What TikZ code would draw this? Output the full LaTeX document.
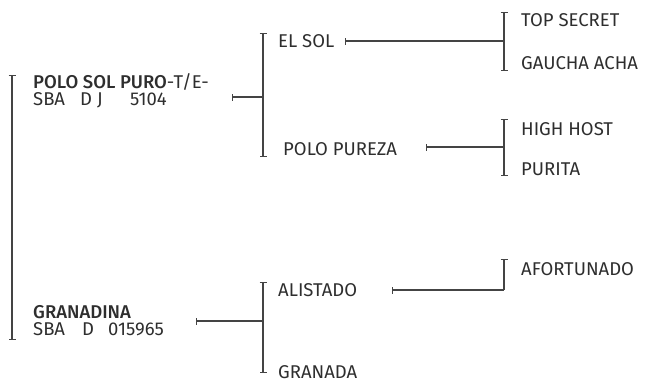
\documentclass[tikz,border=0pt]{standalone}
\usepackage{fontspec}
\setmainfont{Fira Sans}[BoldFont={Fira Sans Medium}]
\usetikzlibrary{arrows.meta}

\definecolor{txtgray}{HTML}{2E2E2E}
\definecolor{linegray}{HTML}{444444}

\begin{document}
\begin{tikzpicture}[x=1pt,y=-1pt,
  horse/.style={anchor=base west,inner sep=0pt,text=txtgray,
    font=\fontsize{18.5}{20}\selectfont},
  bracket/.style={draw=linegray,line width=1.1pt,{Bar[width=7pt]}-{Bar[width=7pt]}},
  halfbracket/.style={draw=linegray,line width=1.1pt,{Bar[width=7pt]}-},
  stub/.style={draw=linegray,line width=1.1pt,{Bar[width=7pt]}-}]
\useasboundingbox (0,0) rectangle (648,383);

\def\xa{12}
\def\xb{33}
\def\xc{263}
\def\xd{278}
\def\xe{504}
\def\xf{521}

% generation 1
\node[horse] (polo) at (\xb, 88) {\textbf{POLO SOL PURO}-T/E-};
\node[horse] (polonr) at (\xb, 105) {\makebox[47pt][l]{SBA}\makebox[50pt][l]{D J}5104};
\node[horse] (granadina) at (\xb, 318) {\textbf{GRANADINA}};
\node[horse] (granadinanr) at (\xb, 335) {\makebox[49pt][l]{SBA}\makebox[26pt][l]{D}015965};

% generation 2
\node[horse] (elsol) at (\xd, 47) {EL SOL};
\node[horse] (pureza) at (\xd + 5, 155) {POLO PUREZA};
\node[horse] (alistado) at (\xd, 296) {ALISTADO};
\node[horse] (granada) at (\xd, 378) {GRANADA};

% generation 3
\node[horse] (topsecret) at (\xf, 26) {TOP SECRET};
\node[horse] (gaucha) at (\xf, 69) {GAUCHA ACHA};
\node[horse] (highhost) at (\xf, 135) {HIGH HOST};
\node[horse] (purita) at (\xf, 175) {PURITA};
\node[horse] (afortunado) at (\xf, 275) {AFORTUNADO};

% brackets
\coordinate (r-top) at (\xa, 75);
\coordinate (r-bot) at (\xa, 340);
\draw[bracket] (r-top) -- (r-bot);

\coordinate (p-top) at (\xc, 33);
\coordinate (p-mid) at (\xc, 97);
\coordinate (p-bot) at (\xc, 157);
\draw[bracket] (p-top) -- (p-bot);

\coordinate (g-top) at (\xc, 282);
\coordinate (g-mid) at (\xc, 321);
\coordinate (g-bot) at (\xc, 373);
\draw[bracket] (g-top) -- (g-bot);

\coordinate (e-top) at (\xe, 12);
\coordinate (e-mid) at (\xe, 41);
\coordinate (e-bot) at (\xe, 71);
\draw[bracket] (e-top) -- (e-bot);

\coordinate (u-top) at (\xe, 119);
\coordinate (u-mid) at (\xe, 147);
\coordinate (u-bot) at (\xe, 176);
\draw[bracket] (u-top) -- (u-bot);

\coordinate (a-top) at (\xe, 259);
\coordinate (a-mid) at (\xe, 290);
\draw[halfbracket] (a-top) -- (a-mid);

% stubs
\coordinate (polo-t) at (232, 97);
\coordinate (granadina-t) at (196, 321);
\coordinate (elsol-t) at (345, 41);
\coordinate (pureza-t) at (426, 147);
\coordinate (alistado-t) at (392, 290);
\draw[stub] (polo-t) -- (p-mid);
\draw[stub] (granadina-t) -- (g-mid);
\draw[stub] (elsol-t) -- (e-mid);
\draw[stub] (pureza-t) -- (u-mid);
\draw[stub] (alistado-t) -- (a-mid);

\end{tikzpicture}
\end{document}
